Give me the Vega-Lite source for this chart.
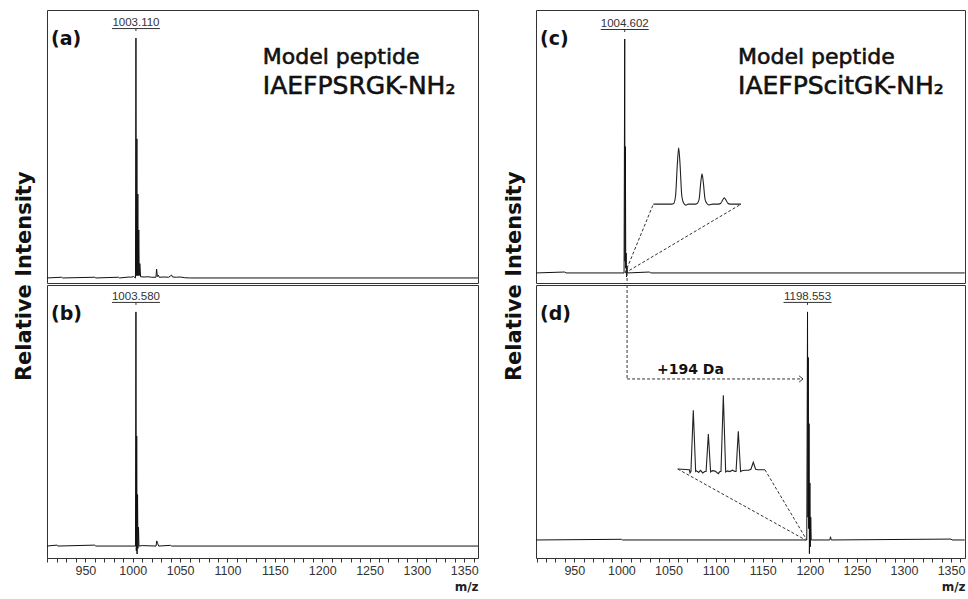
{
  "$schema": "https://vega.github.io/schema/vega-lite/v6.json",
  "padding": {"left": 13, "top": 9, "right": 2, "bottom": 0},
  "background": "white",
  "config": {"view": {"stroke": "#333", "strokeWidth": 1}, "axis": {"grid": false}},
  "datasets": {
    "a_line": [
      {"mz": 909.5, "i": 0}, {"mz": 925, "i": 0.003}, {"mz": 926, "i": 0}, {"mz": 960, "i": 0.003}, {"mz": 961, "i": 0},
      {"mz": 985, "i": 0.003}, {"mz": 986, "i": 0}, {"mz": 996, "i": 0.004}, {"mz": 998, "i": 0.003}, {"mz": 1001, "i": 0.006},
      {"mz": 1002.9, "i": 0}, {"mz": 1003.4, "i": 1.0}, {"mz": 1003.8, "i": 0.01}, {"mz": 1004.4, "i": 0.58}, {"mz": 1004.8, "i": 0.01},
      {"mz": 1005.4, "i": 0.35}, {"mz": 1005.8, "i": 0.01}, {"mz": 1006.4, "i": 0.2}, {"mz": 1006.9, "i": 0.01}, {"mz": 1007.5, "i": 0.06},
      {"mz": 1008.3, "i": 0.005}, {"mz": 1012, "i": 0.004}, {"mz": 1016, "i": 0.005}, {"mz": 1020, "i": 0.003}, {"mz": 1024.5, "i": 0.003},
      {"mz": 1025.2, "i": 0.037}, {"mz": 1026, "i": 0.006}, {"mz": 1027, "i": 0.012}, {"mz": 1028, "i": 0.003}, {"mz": 1033, "i": 0.004},
      {"mz": 1038, "i": 0.003}, {"mz": 1041, "i": 0.012}, {"mz": 1042, "i": 0.004}, {"mz": 1046, "i": 0.003}, {"mz": 1050, "i": 0.004},
      {"mz": 1055, "i": 0.001}, {"mz": 1060, "i": 0}, {"mz": 1364.5, "i": 0}
    ],
    "b_line": [
      {"mz": 909.5, "i": 0}, {"mz": 920, "i": 0.004}, {"mz": 921, "i": 0}, {"mz": 960, "i": 0.004}, {"mz": 961, "i": 0},
      {"mz": 1002.9, "i": 0}, {"mz": 1003.4, "i": 1.0}, {"mz": 1003.8, "i": -0.02}, {"mz": 1004.2, "i": 0.47}, {"mz": 1004.6, "i": -0.034},
      {"mz": 1005.1, "i": 0.22}, {"mz": 1005.5, "i": -0.01}, {"mz": 1006.1, "i": 0.08}, {"mz": 1006.6, "i": 0}, {"mz": 1010, "i": 0.002},
      {"mz": 1024.6, "i": 0}, {"mz": 1025.4, "i": 0.022}, {"mz": 1026.4, "i": 0.01}, {"mz": 1027.4, "i": 0}, {"mz": 1040, "i": 0.003},
      {"mz": 1041, "i": 0}, {"mz": 1364.5, "i": 0}
    ],
    "c_line": [
      {"mz": 909.5, "i": 0}, {"mz": 940, "i": 0.004}, {"mz": 941, "i": 0}, {"mz": 1002.8, "i": 0}, {"mz": 1003.5, "i": 1.0},
      {"mz": 1003.8, "i": 0.05}, {"mz": 1004.2, "i": 0.54}, {"mz": 1004.6, "i": 0.02}, {"mz": 1005.0, "i": 0.085}, {"mz": 1005.4, "i": -0.017},
      {"mz": 1005.9, "i": 0.03}, {"mz": 1006.4, "i": 0}, {"mz": 1030, "i": 0.004}, {"mz": 1031, "i": 0}, {"mz": 1364.5, "i": 0}
    ],
    "c_inset": [
      {"mz": 1033.9, "i": 0.294}, {"mz": 1053.4, "i": 0.294}, {"mz": 1055.5, "i": 0.297}, {"mz": 1057.5, "i": 0.33}, {"mz": 1059.3, "i": 0.46},
      {"mz": 1060.8, "i": 0.535}, {"mz": 1062.3, "i": 0.46}, {"mz": 1064.1, "i": 0.33}, {"mz": 1066.3, "i": 0.297}, {"mz": 1068.5, "i": 0.29},
      {"mz": 1071, "i": 0.294}, {"mz": 1078.5, "i": 0.294}, {"mz": 1080.5, "i": 0.297}, {"mz": 1082.5, "i": 0.315}, {"mz": 1084.2, "i": 0.385},
      {"mz": 1085.6, "i": 0.424}, {"mz": 1087.0, "i": 0.385}, {"mz": 1088.8, "i": 0.315}, {"mz": 1090.8, "i": 0.297}, {"mz": 1093, "i": 0.291},
      {"mz": 1097, "i": 0.294}, {"mz": 1103, "i": 0.294}, {"mz": 1105.5, "i": 0.298}, {"mz": 1107.5, "i": 0.312}, {"mz": 1109.2, "i": 0.321},
      {"mz": 1111, "i": 0.312}, {"mz": 1113, "i": 0.298}, {"mz": 1115.5, "i": 0.294}, {"mz": 1127, "i": 0.294}
    ],
    "d_line": [
      {"mz": 909.5, "i": 0}, {"mz": 1000, "i": 0.003}, {"mz": 1001, "i": 0}, {"mz": 1196.8, "i": 0}, {"mz": 1197.6, "i": 1.0},
      {"mz": 1198, "i": 0.1}, {"mz": 1198.4, "i": 0.8}, {"mz": 1198.8, "i": 0.05}, {"mz": 1199.2, "i": 0.51}, {"mz": 1199.6, "i": -0.06},
      {"mz": 1200.1, "i": 0.25}, {"mz": 1200.5, "i": -0.03}, {"mz": 1201, "i": 0.1}, {"mz": 1201.5, "i": 0}, {"mz": 1221.3, "i": 0},
      {"mz": 1222, "i": 0.014}, {"mz": 1222.8, "i": 0}, {"mz": 1350, "i": 0.004}, {"mz": 1351, "i": 0}, {"mz": 1364.5, "i": 0}
    ],
    "d_inset": [
      {"mz": 1059.8, "i": 0.311}, {"mz": 1072.1, "i": 0.308}, {"mz": 1072.8, "i": 0.294}, {"mz": 1073.8, "i": 0.3}, {"mz": 1076.3, "i": 0.569},
      {"mz": 1078.8, "i": 0.3}, {"mz": 1080, "i": 0.303}, {"mz": 1082, "i": 0.296}, {"mz": 1084, "i": 0.305}, {"mz": 1086.3, "i": 0.294},
      {"mz": 1088.5, "i": 0.3}, {"mz": 1089.9, "i": 0.3}, {"mz": 1092.3, "i": 0.465}, {"mz": 1094.7, "i": 0.298}, {"mz": 1096.5, "i": 0.304},
      {"mz": 1099.5, "i": 0.302}, {"mz": 1102.9, "i": 0.291}, {"mz": 1104.5, "i": 0.3}, {"mz": 1105.7, "i": 0.3}, {"mz": 1108.2, "i": 0.635},
      {"mz": 1110.7, "i": 0.298}, {"mz": 1112.5, "i": 0.303}, {"mz": 1115, "i": 0.3}, {"mz": 1118, "i": 0.306}, {"mz": 1120.5, "i": 0.3},
      {"mz": 1121.7, "i": 0.3}, {"mz": 1124.1, "i": 0.477}, {"mz": 1126.5, "i": 0.3}, {"mz": 1128.5, "i": 0.305}, {"mz": 1132, "i": 0.306},
      {"mz": 1135, "i": 0.306}, {"mz": 1137.5, "i": 0.31}, {"mz": 1140, "i": 0.341}, {"mz": 1142.5, "i": 0.31}, {"mz": 1145, "i": 0.308},
      {"mz": 1152.4, "i": 0.308}
    ],
    "ann": [
      {"p": "a", "k": "peak", "mz": 1003.4, "i": 1.0, "t": "1003.110"},
      {"p": "b", "k": "peak", "mz": 1003.4, "i": 1.0, "t": "1003.580"},
      {"p": "c", "k": "peak", "mz": 1003.5, "i": 1.0, "t": "1004.602"},
      {"p": "d", "k": "peak", "mz": 1197.6, "i": 1.0, "t": "1198.553"},
      {"p": "a", "k": "letter", "mz": 913.8, "i": 0.971, "t": "(a)"},
      {"p": "b", "k": "letter", "mz": 913.8, "i": 0.966, "t": "(b)"},
      {"p": "c", "k": "letter", "mz": 913.5, "i": 0.974, "t": "(c)"},
      {"p": "d", "k": "letter", "mz": 913.5, "i": 0.966, "t": "(d)"},
      {"p": "a", "k": "model1", "mz": 1137.3, "i": 0.892, "t": "Model peptide"},
      {"p": "a", "k": "model2", "mz": 1137.3, "i": 0.767, "t": "IAEFPSRGK-NH₂"},
      {"p": "c", "k": "model1", "mz": 1123.8, "i": 0.893, "t": "Model peptide"},
      {"p": "c", "k": "model2", "mz": 1123.8, "i": 0.764, "t": "IAEFPScitGK-NH₂"},
      {"p": "d", "k": "da", "mz": 1037.8, "i": 0.729, "t": "+194 Da"},
      {"p": "d", "k": "arrow", "mz": 1192.8, "i": 0.706, "t": ""}
    ],
    "seg": [
      {"p": "c", "mz": 1003.9, "i": 0, "mz2": 1033.9, "i2": 0.294},
      {"p": "c", "mz": 1003.9, "i": 0, "mz2": 1127, "i2": 0.294},
      {"p": "c", "mz": 1006, "i": 0, "mz2": 1006, "i2": -0.043},
      {"p": "d", "mz": 1059.8, "i": 0.311, "mz2": 1195.5, "i2": 0},
      {"p": "d", "mz": 1152.4, "i": 0.308, "mz2": 1196.8, "i2": 0},
      {"p": "d", "mz": 1006, "i": 1.118, "mz2": 1006, "i2": 0.706},
      {"p": "d", "mz": 1006, "i": 0.706, "mz2": 1192.3, "i2": 0.706}
    ]
  },
  "hconcat": [
    {
      "title": {"text": "Relative Intensity", "orient": "left", "anchor": "middle", "font": "DejaVu Sans", "fontSize": 21, "fontWeight": "bold", "color": "#111", "offset": 11, "dx": 25},
      "spacing": 0,
      "vconcat": [
        {
          "width": 431, "height": 273,
          "encoding": {
            "x": {"field": "mz", "type": "quantitative", "scale": {"domain": [909.5, 1364.5], "nice": false, "zero": false}, "axis": null},
            "y": {"field": "i", "type": "quantitative", "scale": {"domain": [-0.021, 1.117], "nice": false, "zero": false}, "axis": null}
          },
          "layer": [
            {"data": {"name": "a_line"}, "mark": {"type": "line", "stroke": "#111", "strokeWidth": 1, "clip": true}},
            {"data": {"name": "ann"}, "transform": [{"filter": "datum.p === 'a' && datum.k === 'peak'"}], "mark": {"type": "text", "font": "Liberation Sans", "fontSize": 11.5, "fill": "#333", "align": "center", "baseline": "alphabetic", "dy": -12}, "encoding": {"text": {"field": "t"}}},
            {"data": {"name": "ann"}, "transform": [{"filter": "datum.p === 'a' && datum.k === 'peak'"}], "mark": {"type": "rule", "stroke": "#333", "strokeWidth": 1, "xOffset": -24, "x2Offset": 24, "yOffset": -9.5}, "encoding": {"x2": {"field": "mz"}}},
            {"data": {"name": "ann"}, "transform": [{"filter": "datum.p === 'a' && datum.k === 'peak'"}], "mark": {"type": "rule", "stroke": "#333", "strokeWidth": 1, "yOffset": -9.5, "y2Offset": -7}, "encoding": {"y2": {"field": "i"}}},
            {"data": {"name": "ann"}, "transform": [{"filter": "datum.p === 'a' && datum.k === 'letter'"}], "mark": {"type": "text", "font": "DejaVu Sans", "fontSize": 19, "fontWeight": "bold", "fill": "#111", "align": "left", "baseline": "alphabetic"}, "encoding": {"text": {"field": "t"}}},
            {"data": {"name": "ann"}, "transform": [{"filter": "datum.p === 'a' && datum.k === 'model1'"}], "mark": {"type": "text", "font": "DejaVu Sans", "fontSize": 22, "fill": "#111", "stroke": "#111", "strokeWidth": 0.6, "align": "left", "baseline": "alphabetic"}, "encoding": {"text": {"field": "t"}}},
            {"data": {"name": "ann"}, "transform": [{"filter": "datum.p === 'a' && datum.k === 'model2'"}], "mark": {"type": "text", "font": "DejaVu Sans", "fontSize": 25, "fill": "#111", "stroke": "#111", "strokeWidth": 0.6, "align": "left", "baseline": "alphabetic"}, "encoding": {"text": {"field": "t"}}}
          ]
        },
        {
          "width": 431, "height": 273,
          "encoding": {
            "x": {"field": "mz", "type": "quantitative", "scale": {"domain": [909.5, 1364.5], "nice": false, "zero": false},
              "axis": {"values": [910, 920, 930, 940, 950, 960, 970, 980, 990, 1000, 1010, 1020, 1030, 1040, 1050, 1060, 1070, 1080, 1090, 1100, 1110, 1120, 1130, 1140, 1150, 1160, 1170, 1180, 1190, 1200, 1210, 1220, 1230, 1240, 1250, 1260, 1270, 1280, 1290, 1300, 1310, 1320, 1330, 1340, 1350, 1360],
                "format": "d", "labelExpr": "datum.value % 50 === 0 ? datum.label : ''", "labelFont": "Liberation Sans", "labelFontSize": 12.5, "labelColor": "#333", "labelPadding": 2, "labelOverlap": false, "labelFlush": false,
                "tickSize": 4, "tickColor": "#333", "domain": false,
                "title": "m/z", "titleFont": "DejaVu Sans", "titleFontSize": 12, "titleFontWeight": "bold", "titleColor": "#222", "titleAnchor": "end", "titleAlign": "right", "titlePadding": 5}},
            "y": {"field": "i", "type": "quantitative", "scale": {"domain": [-0.051, 1.115], "nice": false, "zero": false}, "axis": null}
          },
          "layer": [
            {"data": {"name": "b_line"}, "mark": {"type": "line", "stroke": "#111", "strokeWidth": 1, "clip": true}},
            {"data": {"name": "ann"}, "transform": [{"filter": "datum.p === 'b' && datum.k === 'peak'"}], "mark": {"type": "text", "font": "Liberation Sans", "fontSize": 11.5, "fill": "#333", "align": "center", "baseline": "alphabetic", "dy": -12}, "encoding": {"text": {"field": "t"}}},
            {"data": {"name": "ann"}, "transform": [{"filter": "datum.p === 'b' && datum.k === 'peak'"}], "mark": {"type": "rule", "stroke": "#333", "strokeWidth": 1, "xOffset": -24, "x2Offset": 24, "yOffset": -9.5}, "encoding": {"x2": {"field": "mz"}}},
            {"data": {"name": "ann"}, "transform": [{"filter": "datum.p === 'b' && datum.k === 'peak'"}], "mark": {"type": "rule", "stroke": "#333", "strokeWidth": 1, "yOffset": -9.5, "y2Offset": -7}, "encoding": {"y2": {"field": "i"}}},
            {"data": {"name": "ann"}, "transform": [{"filter": "datum.p === 'b' && datum.k === 'letter'"}], "mark": {"type": "text", "font": "DejaVu Sans", "fontSize": 19, "fontWeight": "bold", "fill": "#111", "align": "left", "baseline": "alphabetic"}, "encoding": {"text": {"field": "t"}}}
          ]
        }
      ]
    },
    {
      "title": {"text": "Relative Intensity", "orient": "left", "anchor": "middle", "font": "DejaVu Sans", "fontSize": 21, "fontWeight": "bold", "color": "#111", "offset": 11, "dx": 25},
      "spacing": 0,
      "vconcat": [
        {
          "width": 429, "height": 273,
          "encoding": {
            "x": {"field": "mz", "type": "quantitative", "scale": {"domain": [909.3, 1364.8], "nice": false, "zero": false}, "axis": null},
            "y": {"field": "i", "type": "quantitative", "scale": {"domain": [-0.043, 1.124], "nice": false, "zero": false}, "axis": null}
          },
          "layer": [
            {"data": {"name": "c_line"}, "mark": {"type": "line", "stroke": "#111", "strokeWidth": 1, "clip": true}},
            {"data": {"name": "c_inset"}, "mark": {"type": "line", "stroke": "#222", "strokeWidth": 1.1, "interpolate": "monotone"}},
            {"data": {"name": "seg"}, "transform": [{"filter": "datum.p === 'c'"}], "mark": {"type": "rule", "stroke": "#333", "strokeWidth": 1, "strokeDash": [3, 2]}, "encoding": {"x2": {"field": "mz2"}, "y2": {"field": "i2"}}},
            {"data": {"name": "ann"}, "transform": [{"filter": "datum.p === 'c' && datum.k === 'peak'"}], "mark": {"type": "text", "font": "Liberation Sans", "fontSize": 11.5, "fill": "#333", "align": "center", "baseline": "alphabetic", "dy": -12}, "encoding": {"text": {"field": "t"}}},
            {"data": {"name": "ann"}, "transform": [{"filter": "datum.p === 'c' && datum.k === 'peak'"}], "mark": {"type": "rule", "stroke": "#333", "strokeWidth": 1, "xOffset": -24, "x2Offset": 24, "yOffset": -9.5}, "encoding": {"x2": {"field": "mz"}}},
            {"data": {"name": "ann"}, "transform": [{"filter": "datum.p === 'c' && datum.k === 'peak'"}], "mark": {"type": "rule", "stroke": "#333", "strokeWidth": 1, "yOffset": -9.5, "y2Offset": -7}, "encoding": {"y2": {"field": "i"}}},
            {"data": {"name": "ann"}, "transform": [{"filter": "datum.p === 'c' && datum.k === 'letter'"}], "mark": {"type": "text", "font": "DejaVu Sans", "fontSize": 19, "fontWeight": "bold", "fill": "#111", "align": "left", "baseline": "alphabetic"}, "encoding": {"text": {"field": "t"}}},
            {"data": {"name": "ann"}, "transform": [{"filter": "datum.p === 'c' && datum.k === 'model1'"}], "mark": {"type": "text", "font": "DejaVu Sans", "fontSize": 22, "fill": "#111", "stroke": "#111", "strokeWidth": 0.6, "align": "left", "baseline": "alphabetic"}, "encoding": {"text": {"field": "t"}}},
            {"data": {"name": "ann"}, "transform": [{"filter": "datum.p === 'c' && datum.k === 'model2'"}], "mark": {"type": "text", "font": "DejaVu Sans", "fontSize": 25, "fill": "#111", "stroke": "#111", "strokeWidth": 0.6, "align": "left", "baseline": "alphabetic"}, "encoding": {"text": {"field": "t"}}}
          ]
        },
        {
          "width": 429, "height": 273,
          "encoding": {
            "x": {"field": "mz", "type": "quantitative", "scale": {"domain": [909.3, 1364.8], "nice": false, "zero": false},
              "axis": {"values": [910, 920, 930, 940, 950, 960, 970, 980, 990, 1000, 1010, 1020, 1030, 1040, 1050, 1060, 1070, 1080, 1090, 1100, 1110, 1120, 1130, 1140, 1150, 1160, 1170, 1180, 1190, 1200, 1210, 1220, 1230, 1240, 1250, 1260, 1270, 1280, 1290, 1300, 1310, 1320, 1330, 1340, 1350, 1360],
                "format": "d", "labelExpr": "datum.value % 50 === 0 ? datum.label : ''", "labelFont": "Liberation Sans", "labelFontSize": 12.5, "labelColor": "#333", "labelPadding": 2, "labelOverlap": false, "labelFlush": false,
                "tickSize": 4, "tickColor": "#333", "domain": false,
                "title": "m/z", "titleFont": "DejaVu Sans", "titleFontSize": 12, "titleFontWeight": "bold", "titleColor": "#222", "titleAnchor": "end", "titleAlign": "right", "titlePadding": 5}},
            "y": {"field": "i", "type": "quantitative", "scale": {"domain": [-0.079, 1.118], "nice": false, "zero": false}, "axis": null}
          },
          "layer": [
            {"data": {"name": "d_line"}, "mark": {"type": "line", "stroke": "#111", "strokeWidth": 1, "clip": true}},
            {"data": {"name": "d_inset"}, "mark": {"type": "line", "stroke": "#222", "strokeWidth": 1.1}},
            {"data": {"name": "seg"}, "transform": [{"filter": "datum.p === 'd'"}], "mark": {"type": "rule", "stroke": "#333", "strokeWidth": 1, "strokeDash": [3, 2]}, "encoding": {"x2": {"field": "mz2"}, "y2": {"field": "i2"}}},
            {"data": {"name": "ann"}, "transform": [{"filter": "datum.p === 'd' && datum.k === 'arrow'"}], "mark": {"type": "point", "shape": "M-1,-0.8L0,0L-1,0.8", "filled": false, "stroke": "#333", "strokeWidth": 1, "size": 60, "opacity": 1}},
            {"data": {"name": "ann"}, "transform": [{"filter": "datum.p === 'd' && datum.k === 'peak'"}], "mark": {"type": "text", "font": "Liberation Sans", "fontSize": 11.5, "fill": "#333", "align": "center", "baseline": "alphabetic", "dy": -12}, "encoding": {"text": {"field": "t"}}},
            {"data": {"name": "ann"}, "transform": [{"filter": "datum.p === 'd' && datum.k === 'peak'"}], "mark": {"type": "rule", "stroke": "#333", "strokeWidth": 1, "xOffset": -24, "x2Offset": 24, "yOffset": -9.5}, "encoding": {"x2": {"field": "mz"}}},
            {"data": {"name": "ann"}, "transform": [{"filter": "datum.p === 'd' && datum.k === 'peak'"}], "mark": {"type": "rule", "stroke": "#333", "strokeWidth": 1, "yOffset": -9.5, "y2Offset": -7}, "encoding": {"y2": {"field": "i"}}},
            {"data": {"name": "ann"}, "transform": [{"filter": "datum.p === 'd' && datum.k === 'letter'"}], "mark": {"type": "text", "font": "DejaVu Sans", "fontSize": 19, "fontWeight": "bold", "fill": "#111", "align": "left", "baseline": "alphabetic"}, "encoding": {"text": {"field": "t"}}},
            {"data": {"name": "ann"}, "transform": [{"filter": "datum.p === 'd' && datum.k === 'da'"}], "mark": {"type": "text", "font": "DejaVu Sans", "fontSize": 14, "fontWeight": "bold", "fill": "#111", "align": "left", "baseline": "alphabetic"}, "encoding": {"text": {"field": "t"}}}
          ]
        }
      ]
    }
  ],
  "spacing": 24
}
